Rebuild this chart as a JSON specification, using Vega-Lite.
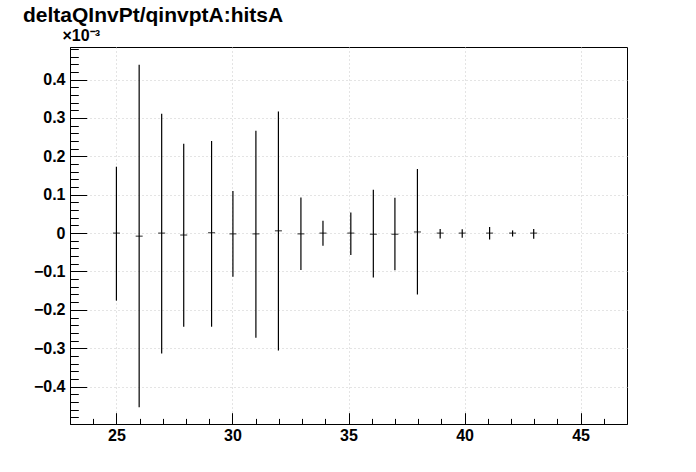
{
  "$schema": "https://vega.github.io/schema/vega-lite/v6.json",
  "width": 557,
  "height": 377,
  "autosize": {"type": "none"},
  "padding": {"left": 70, "top": 47, "right": 69, "bottom": 48},
  "background": "white",
  "title": {
    "text": "deltaQInvPt/qinvptA:hitsA",
    "anchor": "start",
    "frame": "group",
    "font": "Liberation Sans",
    "fontWeight": "bold",
    "fontSize": 21,
    "color": "black",
    "dx": -47,
    "dy": -1,
    "offset": 0
  },
  "config": {
    "view": {"stroke": "black", "strokeWidth": 1},
    "axis": {
      "labelFont": "Liberation Sans",
      "labelFontWeight": "bold",
      "labelFontSize": 16,
      "labelColor": "black",
      "domainColor": "black",
      "tickColor": "black",
      "gridColor": "#c8c8c8",
      "gridDash": [1, 3],
      "gridWidth": 1
    }
  },
  "data": {
    "values": [
      {"x": 25.0, "y": 0.0, "lo": -0.176, "hi": 0.173},
      {"x": 25.98, "y": -0.008, "lo": -0.454, "hi": 0.439},
      {"x": 26.95, "y": 0.0, "lo": -0.314, "hi": 0.311},
      {"x": 27.9, "y": -0.005, "lo": -0.244, "hi": 0.233},
      {"x": 29.1, "y": 0.001, "lo": -0.244, "hi": 0.24},
      {"x": 30.02, "y": -0.002, "lo": -0.114, "hi": 0.11},
      {"x": 31.01, "y": -0.002, "lo": -0.273, "hi": 0.267},
      {"x": 31.98, "y": 0.006, "lo": -0.306, "hi": 0.317},
      {"x": 32.95, "y": -0.002, "lo": -0.096, "hi": 0.093},
      {"x": 33.9, "y": 0.0, "lo": -0.033, "hi": 0.032},
      {"x": 35.1, "y": 0.0, "lo": -0.057, "hi": 0.054},
      {"x": 36.07, "y": -0.003, "lo": -0.116, "hi": 0.113},
      {"x": 37.0, "y": -0.003, "lo": -0.097, "hi": 0.092},
      {"x": 37.97, "y": 0.003, "lo": -0.16, "hi": 0.167},
      {"x": 38.95, "y": 0.0, "lo": -0.014, "hi": 0.011},
      {"x": 39.9, "y": 0.0, "lo": -0.012, "hi": 0.01},
      {"x": 41.08, "y": 0.0, "lo": -0.017, "hi": 0.016},
      {"x": 42.07, "y": 0.0, "lo": -0.009, "hi": 0.007},
      {"x": 42.98, "y": 0.0, "lo": -0.015, "hi": 0.011}
    ]
  },
  "layer": [
    {
      "mark": {"type": "rule", "color": "black", "strokeWidth": 1.2},
      "encoding": {
        "x": {
          "field": "x", "type": "quantitative",
          "scale": {"domain": [23, 47], "nice": false, "zero": false},
          "axis": {
            "orient": "bottom",
            "title": null,
            "values": [25, 30, 35, 40, 45],
            "format": "d",
            "grid": true,
            "tickSize": -11.3,
            "labelPadding": 15,
            "domain": true
          }
        },
        "y": {
          "field": "lo", "type": "quantitative",
          "scale": {"domain": [-0.4975, 0.485], "nice": false, "zero": false},
          "axis": {
            "orient": "left",
            "title": "×10⁻³",
            "titleAngle": 0,
            "titleAlign": "left",
            "titleBaseline": "alphabetic",
            "titleX": -8,
            "titleY": -7,
            "titleFont": "Liberation Sans",
            "titleFontWeight": "bold",
            "titleFontSize": 16,
            "titleColor": "black",
            "values": [-0.4, -0.3, -0.2, -0.1, 0, 0.1, 0.2, 0.3, 0.4],
            "labelExpr": "datum.value == 0 ? '0' : format(datum.value, '.1f')",
            "grid": true,
            "tickSize": -16.7,
            "labelPadding": 21.7
          }
        },
        "y2": {"field": "hi"}
      }
    },
    {
      "mark": {"type": "tick", "orient": "horizontal", "color": "black", "size": 7, "thickness": 1.2},
      "encoding": {
        "x": {
          "field": "x", "type": "quantitative",
          "scale": {"domain": [23, 47], "nice": false, "zero": false},
          "axis": {
            "orient": "bottom",
            "title": null,
            "values": [24, 26, 27, 28, 29, 31, 32, 33, 34, 36, 37, 38, 39, 41, 42, 43, 44, 46],
            "labels": false,
            "grid": false,
            "domain": false,
            "tickSize": -5.6
          }
        },
        "y": {
          "field": "y", "type": "quantitative",
          "scale": {"domain": [-0.4975, 0.485], "nice": false, "zero": false},
          "axis": {
            "orient": "left",
            "title": null,
            "values": [-0.48, -0.46, -0.44, -0.42, -0.38, -0.36, -0.34, -0.32, -0.28, -0.26, -0.24, -0.22, -0.18, -0.16, -0.14, -0.12, -0.08, -0.06, -0.04, -0.02, 0.02, 0.04, 0.06, 0.08, 0.12, 0.14, 0.16, 0.18, 0.22, 0.24, 0.26, 0.28, 0.32, 0.34, 0.36, 0.38, 0.42, 0.44, 0.46, 0.48],
            "labels": false,
            "grid": false,
            "domain": false,
            "tickSize": -8.3
          }
        }
      }
    }
  ],
  "resolve": {"axis": {"x": "independent", "y": "independent"}}
}
